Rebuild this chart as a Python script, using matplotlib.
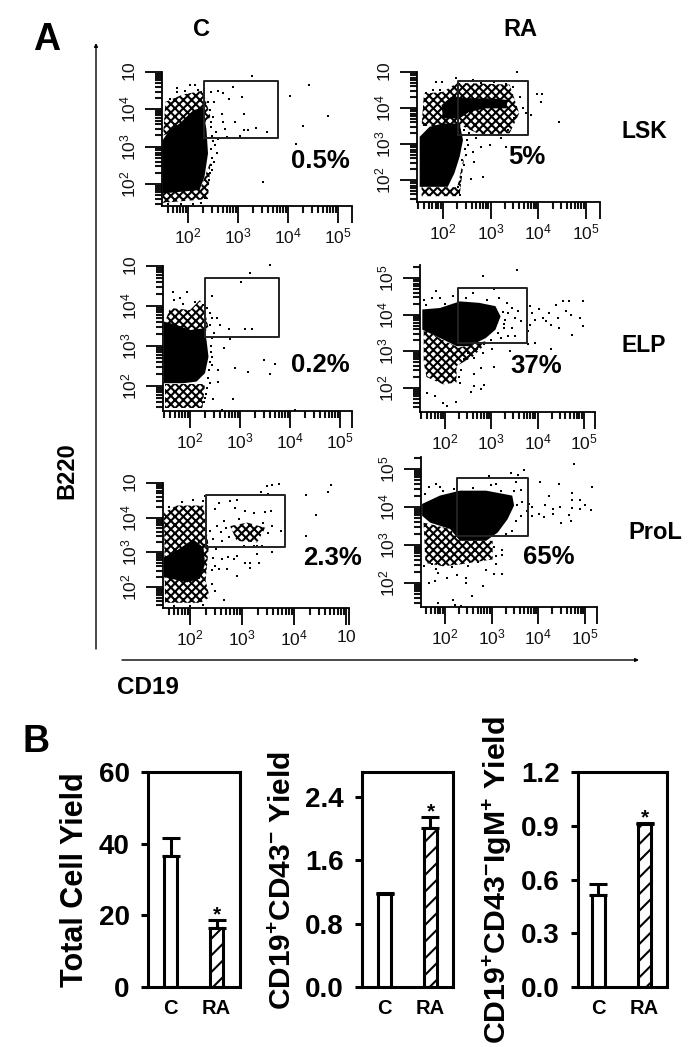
#!/usr/bin/env python3
"""Flow cytometry dot plots (A) and yield bar charts (B)."""

import matplotlib

matplotlib.use("Agg")
import matplotlib.pyplot as plt
import numpy as np

plt.rcParams["font.family"] = ["Liberation Sans", "DejaVu Sans"]
plt.rcParams["mathtext.fontset"] = "custom"
plt.rcParams["mathtext.rm"] = "Liberation Sans:bold"
plt.rcParams["mathtext.sf"] = "Liberation Sans"
plt.rcParams["mathtext.default"] = "rm"
plt.rcParams["hatch.linewidth"] = 1.5

W, H = 700, 1047

# Dots and outlines below are log10(CD19), log10(B220).
LSK_C_BLOB = [(1.49, 3.17), (1.63, 3.44), (1.83, 3.62), (2.10, 3.97), (2.30, 4.06), (2.37, 3.44),
              (2.40, 2.82), (2.33, 2.20), (2.23, 1.84), (1.49, 1.75)]
LSK_C_CLOUD = [[(1.50, 3.30), (1.55, 4.20), (1.90, 4.40), (2.30, 4.50), (2.45, 3.80), (2.30, 3.60), (1.90, 3.50)],
               [(1.50, 1.90), (2.25, 1.90), (2.45, 2.60), (2.40, 1.60), (1.50, 1.50)]]
LSK_C_DOTS = [(3.28, 4.90), (4.41, 4.64), (4.03, 4.37), (4.79, 3.81), (4.29, 3.55), (4.15, 3.08), (3.49, 2.05),
              (2.90, 4.60), (2.60, 4.48), (2.45, 4.46), (2.69, 4.44), (2.81, 4.27), (3.07, 4.33), (2.52, 4.20),
              (3.11, 3.87), (2.67, 3.88), (2.93, 3.66), (2.70, 3.66), (2.73, 3.48), (3.11, 3.46), (3.20, 3.46),
              (3.35, 3.50), (3.57, 3.40), (3.03, 3.28), (2.77, 3.26), (2.60, 3.22), (2.53, 3.04), (2.57, 2.82),
              (2.51, 2.60), (2.47, 2.37), (2.42, 2.11), (2.38, 1.84), (2.33, 1.62), (2.03, 4.64), (2.13, 4.64),
              (1.77, 4.58), (1.77, 4.46), (2.43, 3.97), (2.50, 3.80), (2.40, 4.20), (2.45, 3.53),
              (1.93, 4.50), (2.20, 4.52), (2.32, 4.55), (1.63, 4.28), (2.48, 3.30), (2.50, 3.15), (2.46, 2.95),
              (2.47, 2.70), (2.45, 2.50), (2.43, 2.30), (2.40, 2.00), (2.46, 3.65), (2.55, 3.40), (2.10, 1.48),
              (1.85, 1.46), (1.60, 1.48), (2.25, 1.50)]

LSK_RA_BLOB = [[(1.51, 3.20), (1.72, 3.48), (2.00, 3.57), (2.35, 3.57), (2.42, 3.11), (2.35, 2.65), (2.24, 2.19),
                (2.10, 1.81), (1.51, 1.81)],
               [(1.97, 4.08), (2.17, 4.31), (2.63, 4.27), (3.05, 4.27), (3.36, 4.22), (3.33, 3.99), (2.91, 3.99),
                (2.56, 3.90), (2.35, 3.71), (2.00, 3.71)]]
LSK_RA_CLOUD = [[(1.55, 3.50), (1.60, 4.40), (2.00, 4.45), (2.30, 4.70), (3.40, 4.65), (3.60, 3.85), (3.40, 3.30),
                 (2.80, 3.25), (2.40, 3.50)],
                [(1.55, 1.80), (2.30, 1.80), (2.45, 2.70), (2.35, 1.55), (1.55, 1.55)]]
LSK_RA_DOTS = [(3.55, 5.00), (4.08, 4.38), (3.97, 4.38), (4.06, 4.16), (4.43, 3.60), (3.85, 3.81), (3.75, 3.85),
               (2.84, 2.07), (2.59, 2.02), (2.66, 2.51), (2.63, 2.79), (2.80, 2.93), (2.98, 2.97), (3.33, 2.91),
               (3.22, 3.16), (2.91, 3.25), (3.61, 4.31), (3.68, 3.99), (1.86, 4.73), (1.97, 4.73), (2.28, 4.82),
               (2.52, 2.97), (2.49, 2.69), (2.45, 2.42), (2.38, 2.09), (2.31, 1.81), (2.35, 1.58),
               (2.35, 4.75), (2.63, 4.78), (2.80, 4.70), (3.08, 4.72), (3.33, 4.68), (3.47, 4.59), (3.54, 4.04),
               (3.50, 3.71), (3.36, 3.39), (3.15, 3.24), (2.70, 3.18), (2.55, 3.30), (2.45, 3.40), (1.65, 4.41),
               (1.79, 4.50), (1.93, 4.50), (2.50, 3.10), (2.47, 2.85), (2.40, 2.55)]

ELP_C_BLOB = [(1.48, 3.61), (1.73, 3.53), (2.00, 3.40), (2.27, 3.44), (2.33, 3.15), (2.37, 2.73), (2.30, 2.32),
              (2.13, 2.11), (1.87, 2.07), (1.48, 2.07)]
ELP_C_CLOUD = [[(1.50, 3.60), (1.60, 3.95), (2.00, 3.90), (2.20, 4.15), (2.30, 3.85), (2.38, 3.40), (2.00, 3.35)],
               [(1.50, 2.05), (2.30, 2.05), (2.25, 1.45), (1.50, 1.45)]]
ELP_C_DOTS = [(3.59, 5.02), (3.19, 4.82), (3.01, 4.61), (2.43, 4.25), (1.65, 4.36), (1.93, 4.34), (1.79, 4.19),
              (1.67, 4.15), (2.33, 3.94), (2.40, 3.82), (2.53, 3.69), (2.43, 3.69), (2.60, 3.53), (2.40, 3.53),
              (2.77, 3.42), (3.10, 3.42), (3.23, 3.42), (2.47, 3.32), (2.80, 3.18), (2.43, 3.19), (2.68, 2.96),
              (2.43, 2.73), (3.48, 2.65), (3.69, 2.55), (3.60, 2.30), (3.15, 2.34), (2.90, 2.46), (2.55, 2.40),
              (2.43, 2.53), (2.55, 2.09), (2.40, 2.07), (2.45, 1.68), (2.85, 1.68), (2.30, 1.69), (2.63, 1.40),
              (4.10, 1.40), (2.42, 3.00), (2.41, 2.85), (2.40, 2.60), (2.38, 2.40), (2.36, 2.20), (2.33, 1.95),
              (2.32, 1.80), (2.27, 1.60), (1.85, 4.05), (2.10, 4.10), (2.25, 4.02)]

ELP_RA_BLOB = [(1.51, 4.14), (1.89, 4.18), (2.32, 4.36), (2.74, 4.32), (3.09, 4.23), (3.20, 3.95), (3.09, 3.59),
               (2.88, 3.36), (2.53, 3.14), (2.25, 3.14), (1.96, 3.32), (1.51, 3.59)]
ELP_RA_CLOUD = [[(1.54, 3.60), (1.96, 3.30), (2.30, 3.10), (2.95, 3.30), (2.60, 2.85), (2.25, 2.60), (2.25, 2.15),
                 (1.96, 2.10), (1.60, 2.30), (1.54, 2.70)]]
ELP_RA_DOTS = [(2.81, 5.06), (3.55, 5.21), (3.06, 4.70), (1.81, 4.64), (2.60, 4.59), (1.54, 4.41), (1.72, 4.45),
               (1.89, 4.45), (2.18, 4.50), (3.16, 4.45), (3.34, 4.32), (3.44, 4.18), (3.58, 4.09), (3.37, 4.05),
               (3.51, 3.91), (3.30, 3.86), (3.65, 3.82), (3.44, 3.64), (3.27, 3.64), (3.51, 3.41), (3.37, 3.41),
               (3.20, 3.36), (3.83, 4.23), (3.87, 4.05), (4.04, 4.14), (4.11, 3.91), (4.25, 4.05), (4.39, 4.27),
               (4.54, 4.36), (4.68, 4.36), (4.99, 4.36), (4.61, 4.09), (4.72, 4.00), (4.43, 3.91), (4.29, 3.73),
               (4.46, 3.64), (4.99, 3.70), (4.91, 3.91), (4.75, 3.44), (3.83, 3.73), (3.94, 3.86), (4.18, 3.82),
               (3.80, 3.55), (4.29, 3.07), (3.80, 3.20), (3.94, 3.23), (3.41, 3.00), (3.02, 3.05), (2.81, 2.95),
               (2.63, 2.82), (3.06, 2.57), (2.77, 2.55), (2.63, 2.39), (2.85, 2.09), (2.63, 2.06), (2.77, 1.97),
               (2.56, 1.88), (2.23, 1.61), (2.04, 1.50), (1.96, 1.59), (1.79, 1.77), (1.61, 1.86), (2.32, 2.14),
               (3.25, 4.08), (3.28, 3.75), (3.15, 3.50), (3.00, 3.30), (2.85, 3.20), (2.70, 3.05), (2.50, 2.95),
               (2.40, 2.80), (2.35, 2.50), (2.30, 2.30), (2.00, 4.30), (2.45, 4.45), (2.90, 4.40), (1.60, 4.25)]

PROL_C_BLOB = [(1.50, 2.86), (1.74, 3.05), (2.06, 3.38), (2.26, 3.14), (2.29, 2.67), (2.19, 2.24), (1.94, 2.14),
               (1.50, 2.29)]
PROL_C_CLOUD = [[(1.50, 4.15), (1.74, 4.35), (2.26, 4.35), (2.36, 3.14), (2.30, 2.19), (2.38, 1.71), (2.20, 1.55),
                 (1.52, 1.55)],
                [(2.77, 3.76), (3.10, 3.86), (3.45, 3.71), (3.29, 3.29), (2.90, 3.33)]]
PROL_C_DOTS = [(3.58, 4.95), (3.48, 4.90), (3.71, 4.98), (3.37, 4.74), (3.50, 4.67), (4.23, 4.65), (4.71, 4.95),
               (4.66, 4.74), (4.43, 4.08), (4.23, 3.46), (3.82, 3.88), (3.75, 3.62), (3.55, 4.19), (3.45, 4.17),
               (3.23, 4.14), (3.06, 4.19), (2.90, 4.50), (2.77, 4.48), (2.55, 4.43), (2.48, 4.24), (2.87, 4.29),
               (3.58, 3.76), (2.65, 3.90), (2.52, 3.76), (2.39, 3.62), (2.45, 3.38), (2.61, 3.33), (2.32, 3.19),
               (2.90, 2.90), (2.84, 2.81), (2.74, 2.86), (3.06, 2.69), (3.16, 2.69), (3.15, 2.55), (3.32, 2.69),
               (3.29, 2.95), (3.58, 3.00), (2.90, 2.33), (2.65, 1.62), (2.55, 2.52), (2.71, 2.52), (2.61, 2.81),
               (2.48, 2.62), (2.42, 2.10), (2.48, 1.90), (2.29, 4.62), (3.29, 3.19), (3.03, 3.19), (3.23, 3.19),
               (3.39, 3.19), (2.70, 3.70), (2.60, 3.60), (2.75, 3.45), (3.50, 3.55), (3.40, 3.85), (2.95, 3.95),
               (2.50, 3.10), (2.45, 2.85), (2.42, 2.50), (1.85, 4.45), (2.05, 4.50), (2.25, 4.48), (1.60, 4.30),
               (1.70, 1.47), (2.00, 1.45), (2.25, 1.50)]

PROL_RA_BLOB = [(1.51, 4.08), (1.89, 4.30), (2.32, 4.43), (2.88, 4.43), (3.44, 4.30), (3.48, 4.04), (3.34, 3.68),
                (3.13, 3.33), (2.88, 3.11), (2.32, 3.11), (2.11, 3.42), (1.68, 3.59), (1.51, 3.77)]
PROL_RA_CLOUD = [[(1.54, 3.59), (2.11, 3.42), (2.32, 3.11), (3.02, 3.11), (3.02, 2.62), (2.32, 2.49), (1.96, 2.44),
                  (1.58, 2.53)]]
PROL_RA_DOTS = [(4.77, 5.14), (2.95, 4.81), (3.41, 4.89), (3.69, 4.98), (3.57, 4.85), (4.03, 4.67), (4.44, 4.61),
                (5.15, 4.52), (4.73, 4.37), (4.73, 4.19), (4.89, 4.19), (4.22, 4.28), (4.15, 4.04), (4.32, 3.95),
                (4.46, 3.99), (4.73, 3.97), (4.89, 3.95), (4.99, 4.04), (5.13, 3.92), (4.65, 3.79), (4.69, 3.64),
                (4.49, 3.58), (4.32, 3.81), (4.11, 3.73), (4.01, 3.81), (3.87, 3.77), (3.76, 3.90), (3.65, 4.12),
                (3.55, 4.04), (3.80, 4.08), (3.87, 3.99), (3.62, 3.77), (3.51, 3.64), (3.44, 3.37), (3.30, 3.28),
                (3.23, 2.88), (3.23, 2.73), (3.09, 2.49), (2.88, 2.35), (3.04, 2.25), (3.23, 2.25), (2.82, 1.93),
                (2.58, 1.67), (2.46, 2.13), (2.46, 2.00), (2.25, 2.22), (2.04, 2.13), (1.86, 2.27), (1.72, 2.49),
                (1.65, 2.00), (1.79, 2.04), (2.18, 1.56), (1.86, 1.47), (2.21, 1.42), (2.35, 1.40), (1.89, 4.52),
                (1.81, 4.61), (1.96, 4.43), (1.65, 4.52), (1.58, 4.35), (3.09, 4.61), (2.99, 4.57), (3.51, 4.65),
                (3.62, 4.46), (3.48, 4.43), (3.10, 2.70), (3.05, 2.95), (2.70, 2.55), (2.50, 2.45), (2.15, 2.42),
                (1.80, 2.38), (1.55, 2.45), (2.20, 4.48), (2.60, 4.50), (3.20, 4.42)]

# gates: log10 x min, x max, y min, y max
GATE_LSK_C = (2.32, 3.80, 3.23, 4.75)
GATE_LSK_RA = (2.32, 3.79, 3.25, 4.75)
GATE_ELP_C = (2.30, 3.78, 3.23, 4.70)
GATE_ELP_RA = (2.28, 3.77, 3.23, 4.72)
GATE_PROL_C = (2.31, 3.83, 3.17, 4.66)
GATE_PROL_RA = (2.26, 3.78, 3.24, 4.76)

BAR_GROUPS = ["C", "RA"]
TOTAL_MEAN = [36.5, 16.5]
TOTAL_ERR = [5.0, 2.2]
CD43_MEAN = [1.17, 2.00]
CD43_ERR = [0.02, 0.14]
IGM_MEAN = [0.515, 0.91]
IGM_ERR = [0.062, 0.005]


def fig_text(fig, x, y, s, **kw):
    kw.setdefault("ha", "center")
    kw.setdefault("va", "center")
    kw.setdefault("fontweight", "bold")
    fig.text(x / W, 1 - y / H, s, **kw)


def dot_panel(fig, geom, blobs, clouds, dots, gate, top_label, right_label):
    # geom: left, bottom, right, top, x of 10^2, px per decade x, y of 10^2, px per decade y
    left, bottom, right, top, x100, dx, y100, dy = geom
    ax = fig.add_axes([left / W, 1 - bottom / H, (right - left) / W, (bottom - top) / H])
    ax.patch.set_alpha(0)
    ax.set_xscale("log")
    ax.set_yscale("log")
    ax.set_xlim(10 ** (2 + (left - x100) / dx), 10 ** (2 + (right - x100) / dx))
    ax.set_ylim(10 ** (2 + (y100 - bottom) / dy), 10 ** (2 + (y100 - top) / dy))

    for cloud in clouds:
        c = np.power(10.0, np.array(cloud))
        ax.fill(c[:, 0], c[:, 1], facecolor="none", edgecolor="black", hatch="xxxx", linewidth=0, zorder=1)
    for blob in blobs:
        b = np.power(10.0, np.array(blob))
        ax.fill(b[:, 0], b[:, 1], color="black", linewidth=0, zorder=2)
    d = np.power(10.0, np.array(dots))
    ax.scatter(d[:, 0], d[:, 1], s=3, c="black", marker="s", linewidths=0, clip_on=False, zorder=3)

    gx0, gx1, gy0, gy1 = np.power(10.0, gate)
    ax.plot([gx0, gx1, gx1, gx0, gx0], [gy0, gy0, gy1, gy1, gy0], color="#222222", lw=1.4, zorder=4)

    ax.spines[["top", "right"]].set_visible(False)
    ax.spines[["left", "bottom"]].set_linewidth(1.3)

    xt = [1e2, 1e3, 1e4, 1e5]
    ax.set_xticks(xt + [ax.get_xlim()[1]])
    ax.set_xticklabels([r"$\mathsf{10^{2}}$", r"$\mathsf{10^{3}}$", r"$\mathsf{10^{4}}$", right_label, ""], fontsize=12.5)
    ax.set_yticks([1e2, 1e3, 1e4, 1e5])
    ax.set_yticklabels([r"$\mathsf{10^{2}}$", r"$\mathsf{10^{3}}$", r"$\mathsf{10^{4}}$", top_label], fontsize=12.5,
                       rotation=90, va="center")
    ax.xaxis.set_minor_locator(matplotlib.ticker.LogLocator(base=10, subs=range(2, 10), numticks=12))
    ax.yaxis.set_minor_locator(matplotlib.ticker.LogLocator(base=10, subs=range(2, 10), numticks=12))
    ax.xaxis.set_minor_formatter(matplotlib.ticker.NullFormatter())
    ax.yaxis.set_minor_formatter(matplotlib.ticker.NullFormatter())
    ax.tick_params(axis="x", which="major", length=12, width=1.4, pad=3, colors="#111111")
    ax.tick_params(axis="y", which="major", length=12, width=1.4, pad=5, colors="#111111")
    ax.tick_params(which="minor", length=5, width=1.5, color="#111111")
    return ax


def bar_panel(fig, left, right, xlim, ymax, yticks, means, errs, labels):
    top, bottom = 772, 987
    ax = fig.add_axes([left / W, 1 - bottom / H, (right - left) / W, (bottom - top) / H])
    x = np.arange(len(BAR_GROUPS))
    ax.bar(x, means, width=0.29, facecolor="white", edgecolor="black", linewidth=2.2,
           hatch=[None, "//"], zorder=2)
    ax.errorbar(x, means, yerr=[[0, 0], errs], fmt="none", ecolor="black", elinewidth=2.2, capsize=6.5,
                capthick=2.2, zorder=1)
    tops = np.array(means) + np.array(errs)
    ax.annotate("*", (1, tops[1]), xytext=(0, -3), textcoords="offset points", ha="center", va="bottom",
                fontsize=15, fontweight="bold")
    ax.set_xlim(*xlim)
    ax.set_ylim(0, ymax)
    ax.set_xticks(x)
    ax.set_xticklabels(BAR_GROUPS, fontsize=14.5, fontweight="bold")
    ax.set_yticks(yticks)
    ax.set_yticklabels(labels, fontsize=20, fontweight="bold")
    ax.tick_params(axis="x", length=0, pad=9)
    ax.tick_params(axis="y", length=5, width=2.2, pad=8)
    for s in ax.spines.values():
        s.set_linewidth(2.2)
    return ax


def main():
    fig = plt.figure(figsize=(W / 100, H / 100), dpi=100)

    ten5 = r"$\mathsf{10^{5}}$"
    dot_panel(fig, (162, 206, 352, 72, 188, 50, 184, 37.5), [LSK_C_BLOB], LSK_C_CLOUD, LSK_C_DOTS, GATE_LSK_C,
              r"$\mathsf{10}$", ten5)
    dot_panel(fig, (417, 202, 600, 72, 443, 47.6, 180, 36), LSK_RA_BLOB, LSK_RA_CLOUD, LSK_RA_DOTS, GATE_LSK_RA,
              r"$\mathsf{10}$", ten5)
    dot_panel(fig, (163, 411, 352, 266, 190, 50, 386, 40), [ELP_C_BLOB], ELP_C_CLOUD, ELP_C_DOTS, GATE_ELP_C,
              r"$\mathsf{10}$", ten5)
    dot_panel(fig, (420, 412, 595, 265, 445, 46.3, 388, 36.7), [ELP_RA_BLOB], ELP_RA_CLOUD, ELP_RA_DOTS, GATE_ELP_RA,
              ten5, ten5)
    dot_panel(fig, (163, 608, 349, 483, 190, 52, 587, 35), [PROL_C_BLOB], PROL_C_CLOUD, PROL_C_DOTS, GATE_PROL_C,
              r"$\mathsf{10}$", r"$\mathsf{10}$")
    dot_panel(fig, (421, 607, 597, 457, 445, 46.7, 583, 38), [PROL_RA_BLOB], PROL_RA_CLOUD, PROL_RA_DOTS, GATE_PROL_RA,
              ten5, ten5)

    # long axis arrows
    fig.add_artist(matplotlib.patches.FancyArrowPatch((96 / W, 1 - 649 / H), (96 / W, 1 - 43 / H),
                                                      transform=fig.transFigure, arrowstyle="-|>", mutation_scale=5,
                                                      lw=1.0, color="black", shrinkA=0, shrinkB=0))
    fig.add_artist(matplotlib.patches.FancyArrowPatch((122 / W, 1 - 660 / H), (639 / W, 1 - 660 / H),
                                                      transform=fig.transFigure, arrowstyle="-|>", mutation_scale=5,
                                                      lw=1.0, color="black", shrinkA=0, shrinkB=0))

    fig_text(fig, 47, 40, "A", fontsize=27)
    fig_text(fig, 36, 742, "B", fontsize=27)
    fig_text(fig, 201, 30, "C", fontsize=17)
    fig_text(fig, 520, 30, "RA", fontsize=17)
    fig_text(fig, 644, 132, "LSK", fontsize=16.5)
    fig_text(fig, 644, 346, "ELP", fontsize=16.5)
    fig_text(fig, 655, 533, "ProL", fontsize=17)
    fig_text(fig, 67, 471, "B220", fontsize=17, rotation=90)
    fig_text(fig, 148, 688, "CD19", fontsize=17.5)
    fig_text(fig, 320, 161, "0.5%", fontsize=18.5)
    fig_text(fig, 527, 157, "5%", fontsize=18.5)
    fig_text(fig, 320, 365, "0.2%", fontsize=18.5)
    fig_text(fig, 536, 366, "37%", fontsize=18.5)
    fig_text(fig, 333, 558, "2.3%", fontsize=18.5)
    fig_text(fig, 549, 557, "65%", fontsize=18.5)

    bar_panel(fig, 147.7, 240, (-0.5, 1.51), 60, [0, 20, 40, 60], TOTAL_MEAN, TOTAL_ERR, ["0", "20", "40", "60"])
    bar_panel(fig, 362, 453, (-0.49, 1.49), 2.71, [0, 0.8, 1.6, 2.4], CD43_MEAN, CD43_ERR,
              ["0.0", "0.8", "1.6", "2.4"])
    bar_panel(fig, 577.7, 666.7, (-0.45, 1.48), 1.2, [0, 0.3, 0.6, 0.9, 1.2], IGM_MEAN, IGM_ERR,
              ["0.0", "0.3", "0.6", "0.9", "1.2"])

    fig_text(fig, 75, 880, "Total Cell Yield", fontsize=22, rotation=90)
    fig_text(fig, 283, 880, r"CD19$^{+}$CD43$^{-}$ Yield", fontsize=21.5, rotation=90)
    fig_text(fig, 497, 880, r"CD19$^{+}$CD43$^{-}$IgM$^{+}$ Yield", fontsize=21.8, rotation=90)

    fig.savefig("out.png", dpi=100)


if __name__ == "__main__":
    main()
